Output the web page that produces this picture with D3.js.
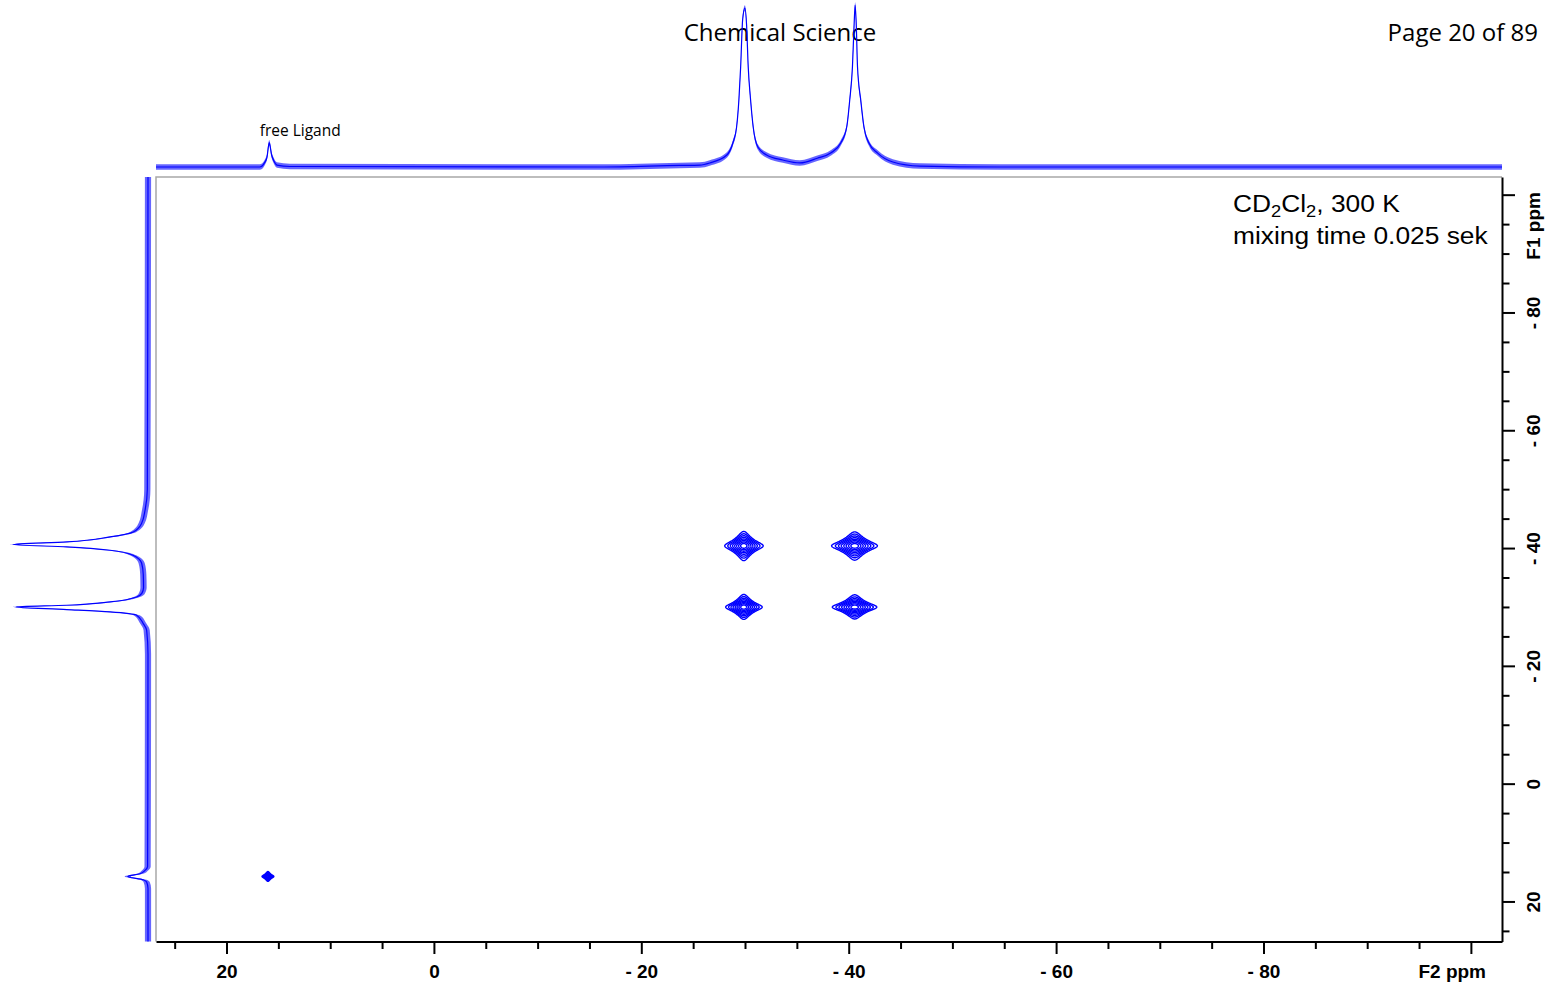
<!DOCTYPE html>
<html><head><meta charset="utf-8">
<script src="https://cdn.jsdelivr.net/npm/d3@7"></script>
<style>body{margin:0;background:#fff} svg{display:block;background:#fff}</style>
</head><body>
<svg id="c" width="1557" height="985"></svg>
<script>
// ---------------- data ----------------
const ppmDomain = [26.8, -103];
const f2MajorTicks = [20, 0, -20, -40, -60, -80, -100];
const f2LabelTicks = [20, 0, -20, -40, -60, -80];
const f1MajorTicks = [-100, -80, -60, -40, -20, 0, 20];
const f1LabelTicks = [-80, -60, -40, -20, 0, 20];
const minorTicks = d3.range(25, -101, -5);

// F2 projection (top trace): ppm and relative intensity
const f2ProjPpm = [26.8, 16.8, 16.3, 16.1, 15.88, 15.65, 15.43, 15.14, 13.9, -16.0, -23.7, -25.65, -26.6, -28.25, -28.83, -29.19, -29.41, -29.58, -29.77, -29.99, -30.15, -30.31, -30.54, -30.79, -31.24, -32.08, -33.65, -35.29, -36.97, -38.26, -39.23, -39.81, -40.1, -40.36, -40.52, -40.62, -40.73, -40.85, -41.16, -41.47, -41.95, -42.79, -44.26, -46.86, -54.6, -103];
const f2ProjInt = [0, 0, 3, 6, 15, 7.4, 3.7, 1.2, 0.3, 0, 1, 1.2, 2.5, 7.4, 14.8, 24.7, 41.4, 61.7, 90.7, 98.1, 88, 61.7, 41.4, 24.7, 12.3, 7.4, 4.3, 2.5, 5.4, 8.6, 14.8, 24.7, 41.4, 61.7, 87.7, 100, 87.7, 61.7, 41.4, 24.7, 14.8, 8.6, 3.1, 0.6, 0, 0];
const f2Noise = 1.7;

// F1 projection (left trace)
const f1ProjPpm = [-103, -50, -46.4, -44.2, -42.74, -41.89, -41.04, -40.6, -40.19, -39.63, -38.78, -37.42, -35.5, -33.3, -32.3, -31.7, -30.85, -30.29, -30.0, -29.56, -29.15, -28.59, -27.18, -26.04, -22, 14.05, 14.73, 15.29, 15.75, 16.31, 16.71, 17.8, 26.8];
const f1ProjInt = [0, 0.5, 2.2, 4.7, 10.9, 28.1, 60.2, 99.8, 60.2, 28.1, 11.1, 4.7, 3.5, 3.3, 4.6, 8.4, 28.1, 60.2, 97.8, 60.2, 28.1, 8.4, 3.5, 1.0, 0, 0.3, 2.2, 5.9, 15, 3.5, 1.0, 0, 0];
const f1Noise = 2.3;

// 2D peaks (diagonal and exchange cross peaks)
const peakF2 = [-29.9, -40.6, -29.9, -40.6, 16.0];
const peakF1 = [-40.4, -40.4, -30.0, -30.0, 15.75];
const peakAmp = [10, 10, 10, 10, 10];
const peakWidthF2 = [0.60, 0.72, 0.57, 0.70, 0.19];
const peakWidthF1 = [0.80, 0.78, 0.68, 0.66, 0.28];
const contourLevels = [1, 1.35, 1.8, 2.4, 3.25, 4.4, 6, 8];

const headerTitle = "Chemical Science";
const headerPage = "Page 20 of 89";

// ---------------- drawing ----------------
const svg = d3.select("#c");
const blue = "#0000ff";
const x = d3.scaleLinear().domain(ppmDomain).range([156, 1502]);
const y = d3.scaleLinear().domain(ppmDomain).range([941.5, 177]);
const yTop = d3.scaleLinear().domain([0, 100]).range([167, 5]);
const xLeft = d3.scaleLinear().domain([0, 100]).range([148, 13]);
const fmt = d => d < 0 ? "- " + Math.abs(d) : String(d);

// header text
svg.append("text").attr("x", 780).attr("y", 41).attr("text-anchor", "middle")
  .attr("font-family", "Open Sans, Noto Sans, sans-serif").attr("font-size", 24).text(headerTitle);
svg.append("text").attr("x", 1538).attr("y", 41).attr("text-anchor", "end")
  .attr("font-family", "Open Sans, Noto Sans, sans-serif").attr("font-size", 24).text(headerPage);

// frame
svg.append("path").attr("d", `M${x.range()[0]},${y.range()[0]}V${y.range()[1]}H${x.range()[1]}`)
  .attr("fill", "none").attr("stroke", "#a8a8a8").attr("stroke-width", 1.5);

// top projection
const topData = f2ProjPpm.map((p, i) => ({p, v: f2ProjInt[i]}));
svg.append("path").datum(topData)
  .attr("d", d3.area().curve(d3.curveMonotoneX).x(d => x(d.p)).y0(d => yTop(d.v - f2Noise)).y1(d => yTop(d.v + f2Noise)))
  .attr("fill", blue).attr("fill-opacity", 0.6);
svg.append("path").datum(topData)
  .attr("d", d3.line().curve(d3.curveMonotoneX).x(d => x(d.p)).y(d => yTop(d.v)))
  .attr("fill", "none").attr("stroke", blue).attr("stroke-width", 1.2);

// left projection
const leftData = f1ProjPpm.map((p, i) => ({p, v: f1ProjInt[i]}));
svg.append("path").datum(leftData)
  .attr("d", d3.area().curve(d3.curveMonotoneY).y(d => y(d.p)).x0(d => xLeft(d.v - f1Noise)).x1(d => xLeft(d.v + f1Noise)))
  .attr("fill", blue).attr("fill-opacity", 0.6);
svg.append("path").datum(leftData)
  .attr("d", d3.line().curve(d3.curveMonotoneY).y(d => y(d.p)).x(d => xLeft(d.v)))
  .attr("fill", "none").attr("stroke", blue).attr("stroke-width", 1.2);

// label free ligand
svg.append("text").attr("x", x(f2ProjPpm[4]) + 31).attr("y", 136).attr("text-anchor", "middle")
  .attr("font-family", "Open Sans, Noto Sans, sans-serif").attr("font-size", 15.5).text("free Ligand");

// 2D contours
const gC = svg.append("g");
const N = 160;
peakF2.forEach((c2, k) => {
  const c1 = peakF1[k];
  const h2 = peakWidthF2[k] * 5, h1 = peakWidthF1[k] * 5;
  const lo2 = c2 - h2, lo1 = c1 - h1, s2 = 2 * h2 / N, s1 = 2 * h1 / N;
  const vals = new Float64Array(N * N);
  for (let j = 0; j < N; j++) for (let i = 0; i < N; i++) {
    const p2 = lo2 + i * s2, p1 = lo1 + j * s1;
    let v = 0;
    peakF2.forEach((q2, m) => {
      const u = (p2 - q2) / peakWidthF2[m], w = (p1 - peakF1[m]) / peakWidthF1[m];
      v += peakAmp[m] / ((1 + u * u) * (1 + w * w));
    });
    vals[i + j * N] = v;
  }
  const cs = d3.contours().size([N, N]).thresholds(contourLevels)(vals);
  const proj = d3.geoTransform({point(px, py) { this.stream.point(x(lo2 + px * s2), y(lo1 + py * s1)); }});
  gC.selectAll(null).data(cs).join("path").attr("d", d3.geoPath(proj))
    .attr("fill", "none").attr("stroke", blue).attr("stroke-width", 1.4);
});

// bottom axis
const axB = svg.append("g").attr("transform", `translate(0,${y.range()[0]})`)
  .call(d3.axisBottom(x).tickValues(minorTicks).tickSizeOuter(0)
    .tickFormat(d => f2LabelTicks.includes(d) ? fmt(d) : ""));
axB.select(".domain").attr("stroke", "#000").attr("stroke-width", 2);
axB.selectAll(".tick line").attr("stroke", "#000").attr("stroke-width", 2)
  .attr("y2", d => f2MajorTicks.includes(d) ? 12.5 : 7.5);
axB.selectAll(".tick text").attr("y", 36).attr("dy", 0)
  .attr("font-family", "Liberation Sans, Arial, sans-serif").attr("font-weight", "bold").attr("font-size", 19).attr("fill", "#000");
axB.append("text").attr("x", x(-98.2)).attr("y", 36).attr("text-anchor", "middle")
  .attr("font-family", "Liberation Sans, Arial, sans-serif").attr("font-weight", "bold").attr("font-size", 19).attr("fill", "#000").text("F2 ppm");

// right axis
const axR = svg.append("g").attr("transform", `translate(${x.range()[1]},0)`)
  .call(d3.axisRight(y).tickValues(minorTicks).tickSizeOuter(0)
    .tickFormat(d => f1LabelTicks.includes(d) ? fmt(d) : ""));
axR.select(".domain").attr("stroke", "#000").attr("stroke-width", 2);
axR.selectAll(".tick line").attr("stroke", "#000").attr("stroke-width", 2)
  .attr("x2", d => f1MajorTicks.includes(d) ? 13 : 7.5);
axR.selectAll(".tick text").attr("x", 0).attr("dy", 0).attr("text-anchor", "middle")
  .attr("transform", "translate(38,0) rotate(-90)")
  .attr("font-family", "Liberation Sans, Arial, sans-serif").attr("font-weight", "bold").attr("font-size", 19).attr("fill", "#000");
axR.append("text").attr("text-anchor", "middle").attr("transform", `translate(38,${y(-94.7)}) rotate(-90)`)
  .attr("font-family", "Liberation Sans, Arial, sans-serif").attr("font-weight", "bold").attr("font-size", 19).attr("fill", "#000").text("F1 ppm");

// sample annotation
const ann = svg.append("text").attr("transform", "translate(1233,0) scale(1.145,1)")
  .attr("font-family", "Liberation Sans, Arial, sans-serif").attr("font-size", 23).attr("fill", "#000");
const l1 = ann.append("tspan").attr("x", 0).attr("y", 212);
l1.append("tspan").text("CD");
l1.append("tspan").attr("font-size", 16).attr("dy", 5).text("2");
l1.append("tspan").attr("dy", -5).text("Cl");
l1.append("tspan").attr("font-size", 16).attr("dy", 5).text("2");
l1.append("tspan").attr("dy", -5).text(", 300 K");
ann.append("tspan").attr("x", 0).attr("y", 244).text("mixing time 0.025 sek");
</script>
</body></html>
